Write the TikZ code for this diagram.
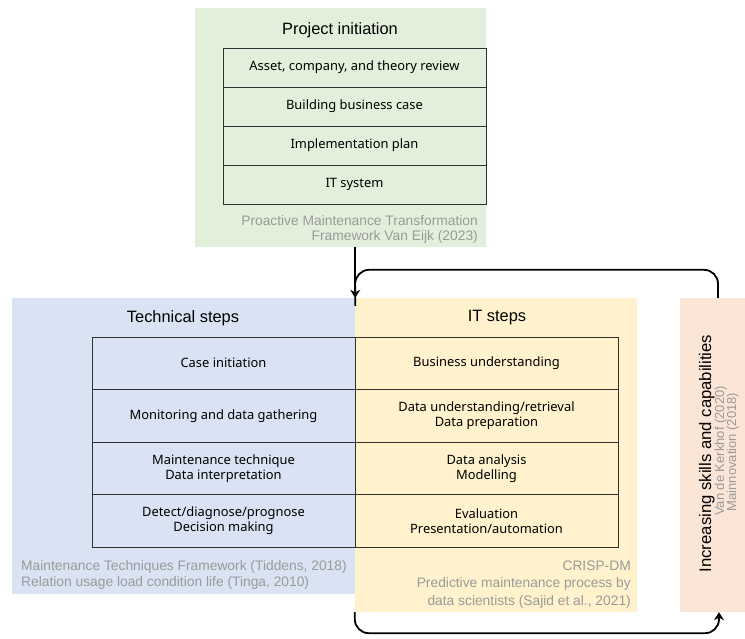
\documentclass[tikz,border=0pt]{standalone}
\usepackage{fontspec}
\setmainfont{Liberation Sans}
\newfontfamily\rowfont{Noto Sans}
\usetikzlibrary{arrows.meta}

\definecolor{pigreen}{HTML}{E2EFDA}
\definecolor{techblue}{HTML}{DAE3F3}
\definecolor{ityellow}{HTML}{FFF2CC}
\definecolor{skillpink}{HTML}{FBE5D6}
\definecolor{capgray}{HTML}{9A9A9A}
\definecolor{rowline}{HTML}{303030}

\tikzset{
  panel/.style={draw=none, inner sep=0pt, minimum width=#1},
  panelh/.style={minimum height=#1},
  rowbox/.style={draw=rowline, line width=0.8pt, inner sep=0pt,
    minimum width=263pt, align=center,
    font=\rowfont\fontsize{12.9}{15}\selectfont},
  title/.style={font=\fontsize{16.4}{19}\selectfont},
  caption/.style={text=capgray, inner sep=0pt},
  sidelabel/.style={rotate=90, anchor=base, inner sep=0pt},
  flow/.style={line width=1.8pt, -{Stealth[length=8pt,width=10pt]}},
  bracket/.style={line width=1.8pt, rounded corners=14pt}
}

\begin{document}
\begin{tikzpicture}[x=1pt,y=-1pt]
\useasboundingbox (0,0) rectangle (745,639);

% background panels
\node[panel=291pt, panelh=239pt, fill=pigreen] (pibox) at (340.5,127.5) {};
\node[panel=343pt, panelh=296pt, fill=techblue] (techbox) at (183.5,446) {};
\node[panel=282pt, panelh=314pt, fill=ityellow] (itbox) at (496,455) {};
\node[panel=65pt, panelh=314pt, fill=skillpink] (skillbox) at (712.5,455) {};

% panel titles
\node[title] (pititle) at (340,30) {Project initiation};
\node[title] (techtitle) at (183,318) {Technical steps};
\node[title] (ittitle) at (497,318) {IT steps};

% project initiation steps
\node[rowbox, minimum height=39pt] (pa) at (354.5,67.5) {Asset, company, and theory review};
\node[rowbox, minimum height=39pt] (pb) at (354.5,106.5) {Building business case};
\node[rowbox, minimum height=39pt] (pc) at (354.5,145.5) {Implementation plan};
\node[rowbox, minimum height=39pt] (pd) at (354.5,184.5) {IT system};

% technical steps
\node[rowbox, minimum height=52.5pt] (ta) at (223.5,363.25) {Case initiation};
\node[rowbox, minimum height=52.5pt] (tb) at (223.5,415.75) {Monitoring and data gathering};
\node[rowbox, minimum height=52.5pt] (tc) at (223.5,468.25) {Maintenance technique\\Data interpretation};
\node[rowbox, minimum height=52.5pt] (td) at (223.5,520.75) {Detect/diagnose/prognose\\Decision making};

% IT steps
\node[rowbox, minimum height=52.5pt] (ia) at (486.5,363.25) {Business understanding};
\node[rowbox, minimum height=52.5pt] (ib) at (486.5,415.75) {Data understanding/retrieval\\Data preparation};
\node[rowbox, minimum height=52.5pt] (ic) at (486.5,468.25) {Data analysis\\Modelling};
\node[rowbox, minimum height=52.5pt] (id) at (486.5,520.75) {Evaluation\\Presentation/automation};

% source captions
\node[caption, anchor=east, align=right, font=\fontsize{13.8}{15.5}\selectfont]
  (picap) at (478,229.5) {Proactive Maintenance Transformation\\Framework Van Eijk (2023)};
\node[caption, anchor=west, align=left, font=\fontsize{13.8}{16}\selectfont]
  (techcap) at (21,575) {Maintenance Techniques Framework (Tiddens, 2018)\\Relation usage load condition life (Tinga, 2010)};
\node[caption, anchor=east, align=right, font=\fontsize{13.8}{17.5}\selectfont]
  (itcap) at (631,584.5) {CRISP-DM\\Predictive maintenance process by\\data scientists (Sajid et al., 2021)};

% vertical skills label
\node[sidelabel, font=\fontsize{16.7}{18}\selectfont] (skilltext) at (711,453.5)
  {Increasing skills and capabilities};
\node[sidelabel, text=capgray, font=\fontsize{13}{14}\selectfont] (skillref1) at (724,451)
  {Van de Kerkhof (2020)};
\node[sidelabel, text=capgray, font=\fontsize{13}{14}\selectfont] (skillref2) at (736,452)
  {Mainnovation (2018)};

% connectors
\coordinate (topjoin) at ([yshift=-8pt]techbox.north east);
\coordinate (skilltop) at ([xshift=5.5pt]skillbox.north);
\coordinate (skillbot) at ([xshift=6.5pt]skillbox.south);
\coordinate (itfoot) at (itbox.south west);

\draw[flow] (pibox.south -| techbox.north east) -- (techbox.north east);
\draw[bracket] (topjoin) |- ([yshift=28pt]skilltop) -- (skilltop);
\draw[bracket, -{Stealth[length=8pt,width=10pt]}] (itfoot) |- ([yshift=-21pt]skillbot) -- (skillbot);

\end{tikzpicture}
\end{document}
